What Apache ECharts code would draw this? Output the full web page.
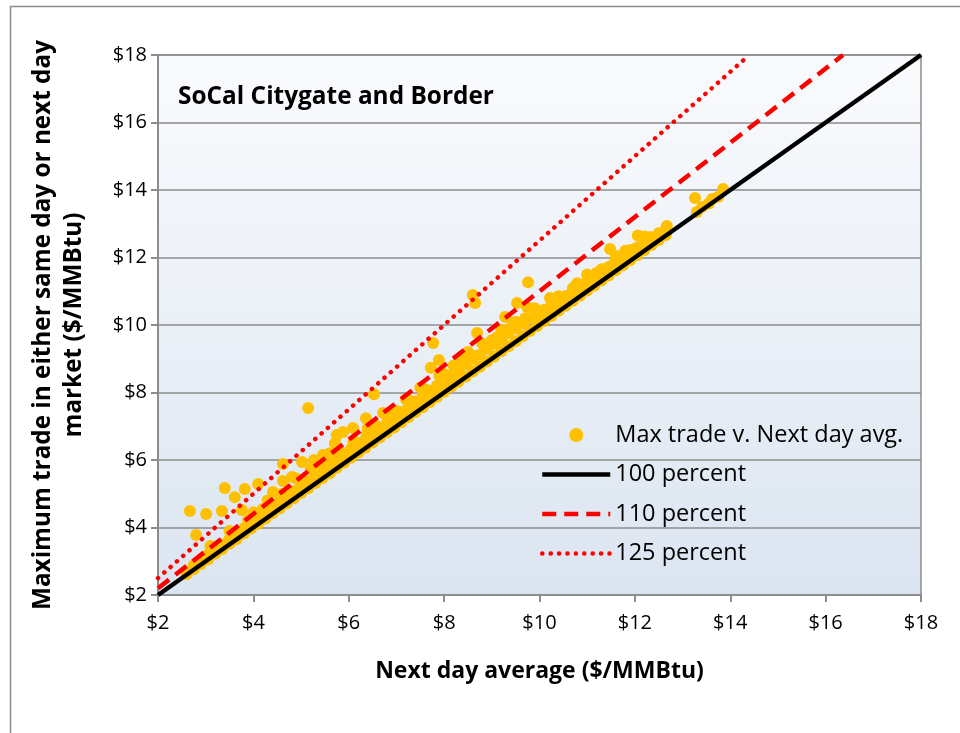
<!DOCTYPE html>
<html>
<head>
<meta charset="utf-8">
<script src="https://cdn.jsdelivr.net/npm/echarts@6/dist/echarts.min.js"></script>
<style>
html,body{margin:0;padding:0;background:#fff;}
#chart{width:960px;height:733px;}
</style>
</head>
<body>
<div id="chart"></div>
<script>
// Scatter: next day average (x) vs max trade (y), $/MMBtu
const nextDayAvg = [
  2.60,2.60,2.75,2.75,2.90,2.90,3.05,3.05,3.20,3.20,3.35,3.35,3.50,3.50,3.65,3.65,3.80,3.80,3.95,3.95,
  4.10,4.10,4.25,4.25,4.40,4.40,4.55,4.55,4.70,4.70,4.85,4.85,5.00,5.00,5.15,5.15,5.30,5.30,5.45,5.45,
  5.60,5.60,5.75,5.75,5.90,5.90,6.05,6.05,6.20,6.20,6.35,6.35,6.50,6.50,6.65,6.65,6.80,6.80,6.95,6.95,
  7.10,7.10,7.25,7.25,7.40,7.40,7.55,7.55,7.70,7.70,7.85,7.85,8.00,8.00,8.15,8.15,8.30,8.30,8.45,8.45,
  8.60,8.60,8.75,8.75,8.90,8.90,9.05,9.05,9.20,9.20,9.35,9.35,9.50,9.50,9.65,9.65,9.80,9.80,9.95,9.95,
  10.10,10.10,10.25,10.25,10.40,10.40,10.55,10.55,10.70,10.70,10.85,10.85,11.00,11.00,11.15,11.15,
  11.30,11.30,11.45,11.45,11.60,11.60,11.75,11.75,11.90,11.90,12.05,12.05,12.20,12.20,12.35,12.35,
  12.50,12.50,12.65,12.65,13.30,13.55,13.75,
  6.10,6.60,7.00,7.30,7.60,8.00,8.30,8.60,9.00,9.30,9.70,10.40,11.00,11.60,12.20,
  3.10,3.50,4.00,4.30,4.90,5.20,5.60,
  4.20,4.60,5.00,5.40,5.80,6.40,6.80,7.20,7.50,7.90,8.20,8.50,8.80,9.20,9.50,9.90,10.30,10.70,11.30,11.80,
  2.67,2.80,3.01,3.40,3.34,3.61,3.82,3.76,3.89,4.10,4.41,4.62,4.81,4.62,5.02,5.15,5.27,5.46,5.71,5.75,
  5.88,6.09,6.36,6.38,6.53,6.72,7.72,7.77,7.89,8.37,8.60,8.65,8.69,8.90,9.11,9.28,9.44,9.53,9.74,9.76,
  9.95,10.16,10.22,10.79,11.20,11.48,11.58,11.90,12.06,12.32,12.67,13.26,13.41,13.62,13.85
];
const maxTrade = [
  2.62,2.70,2.76,2.88,2.92,3.02,3.06,3.20,3.22,3.33,3.36,3.50,3.52,3.66,3.66,3.80,3.82,3.98,3.97,4.12,
  4.11,4.28,4.27,4.45,4.42,4.58,4.56,4.76,4.72,4.90,4.87,5.08,5.02,5.22,5.16,5.38,5.32,5.55,5.47,5.70,
  5.61,5.86,5.77,6.02,5.92,6.15,6.07,6.33,6.22,6.50,6.36,6.62,6.52,6.80,6.67,6.95,6.82,7.10,6.96,7.25,
  7.12,7.42,7.27,7.56,7.42,7.74,7.56,7.90,7.72,8.05,7.87,8.20,8.02,8.36,8.17,8.52,8.32,8.66,8.47,8.84,
  8.62,9.00,8.76,9.12,8.92,9.30,9.07,9.45,9.22,9.58,9.37,9.76,9.52,9.90,9.67,10.05,9.82,10.20,9.97,10.32,
  10.12,10.45,10.27,10.58,10.42,10.72,10.57,10.86,10.72,11.02,10.87,11.15,11.02,11.30,11.17,11.42,
  11.32,11.58,11.47,11.72,11.62,11.90,11.77,12.02,11.92,12.15,12.07,12.30,12.22,12.45,12.37,12.58,
  12.52,12.72,12.67,12.85,13.35,13.60,13.80,
  6.55,7.00,7.45,7.75,8.10,8.55,8.90,9.10,9.55,9.85,10.20,10.85,11.50,12.05,12.62,
  3.45,3.90,4.45,4.80,5.45,5.75,6.20,
  4.55,5.00,5.40,5.85,6.30,6.95,7.35,7.80,8.15,8.50,8.80,9.20,9.45,9.85,10.10,10.50,10.70,11.10,11.65,12.20,
  4.49,3.78,4.40,5.17,4.49,4.90,5.14,4.52,4.22,5.29,5.05,5.38,5.50,5.88,5.94,7.54,6.00,6.15,6.50,6.74,
  6.83,6.95,7.24,6.80,7.95,7.39,8.73,9.47,8.96,9.05,10.89,10.65,9.76,9.32,9.64,10.24,10.06,10.65,10.53,11.27,
  10.27,10.36,10.80,11.24,11.55,12.25,11.87,12.22,12.65,12.61,12.93,13.76,13.50,13.73,14.03
];
// Reference lines (endpoints)
const line100 = [[2, 2], [18, 18]];
const line110 = [[2, 2.2], [16.364, 18]];
const line125 = [[2, 2.5], [14.4, 18]];
const axisTicks = [2, 4, 6, 8, 10, 12, 14, 16, 18];
const seriesNames = ['Max trade v. Next day avg.', '100 percent', '110 percent', '125 percent'];
const chartTitle = 'SoCal Citygate and Border';
const xTitle = 'Next day average ($/MMBtu)';
const yTitle = 'Maximum trade in either same day or next day\nmarket ($/MMBtu)';

const scatterData = nextDayAvg.map((x, i) => [x, maxTrade[i]]);
const FONT = 'Open Sans';
const chart = echarts.init(document.getElementById('chart'), null, {renderer: 'canvas'});
const axisCommon = {
  type: 'value', min: 2, max: 18, interval: 2,
  axisLine: {show: true, lineStyle: {color: '#8c8c8c', width: 2}},
  axisTick: {show: true, length: 7, lineStyle: {color: '#8c8c8c', width: 2}},
  axisLabel: {color: '#000', fontFamily: FONT, fontSize: 20, formatter: v => '$' + v},
  nameTextStyle: {color: '#000', fontFamily: FONT, fontSize: 23, fontWeight: 'bold'},
  nameLocation: 'middle'
};
chart.setOption({
  animation: false,
  backgroundColor: '#fff',
  graphic: [{
    type: 'rect', left: 8, top: 4, z: -10,
    shape: {width: 1200, height: 1200},
    style: {fill: 'none', stroke: '#8c8c8c', lineWidth: 1.5}
  }],
  title: {
    text: chartTitle, left: 173, top: 80,
    textStyle: {fontFamily: FONT, fontSize: 24.4, fontWeight: 'bold', color: '#000'}
  },
  grid: {
    left: 158, right: 39, top: 55, bottom: 138, show: true,
    borderColor: '#8c8c8c', borderWidth: 1.5,
    backgroundColor: {type: 'linear', x: 0, y: 0, x2: 0, y2: 1,
      colorStops: [{offset: 0, color: '#fafbfd'}, {offset: 1, color: '#dbe5f1'}]}
  },
  xAxis: Object.assign({}, axisCommon, {
    name: xTitle, nameGap: 65,
    splitLine: {show: false},
    axisLabel: Object.assign({}, axisCommon.axisLabel, {margin: 18})
  }),
  yAxis: Object.assign({}, axisCommon, {
    name: yTitle, nameGap: 68,
    nameTextStyle: Object.assign({}, axisCommon.nameTextStyle, {fontSize: 24.3, lineHeight: 31}),
    splitLine: {show: true, lineStyle: {color: '#8c8c8c', width: 1.5}},
    axisLabel: Object.assign({}, axisCommon.axisLabel, {margin: 11})
  }),
  legend: {
    orient: 'vertical', left: 535, top: 418, itemWidth: 68, itemHeight: 14, itemGap: 15.5,
    textStyle: {fontFamily: FONT, fontSize: 23.5, color: '#000'},
    itemTextGap: 6,
    lineStyle: {width: 4.5},
    data: [
      {name: seriesNames[0], icon: 'circle'},
      {name: seriesNames[1], itemStyle: {opacity: 0}},
      {name: seriesNames[2], itemStyle: {opacity: 0}},
      {name: seriesNames[3], itemStyle: {opacity: 0}}
    ]
  },
  series: [
    {name: seriesNames[0], type: 'scatter', data: scatterData, symbol: 'circle', symbolSize: 12,
      itemStyle: {color: '#ffc000', opacity: 1}},
    {name: seriesNames[1], type: 'line', data: line100, symbol: 'none',
      lineStyle: {color: '#000', width: 4.5}, itemStyle: {color: '#000'}},
    {name: seriesNames[2], type: 'line', data: line110, symbol: 'none',
      lineStyle: {color: '#ff0000', width: 4.5, type: [14, 8]}, itemStyle: {color: '#ff0000'}},
    {name: seriesNames[3], type: 'line', data: line125, symbol: 'none',
      lineStyle: {color: '#ff0000', width: 4.5, type: [0.1, 8.3], cap: 'round'}, itemStyle: {color: '#ff0000'}}
  ]
});
</script>
</body>
</html>
